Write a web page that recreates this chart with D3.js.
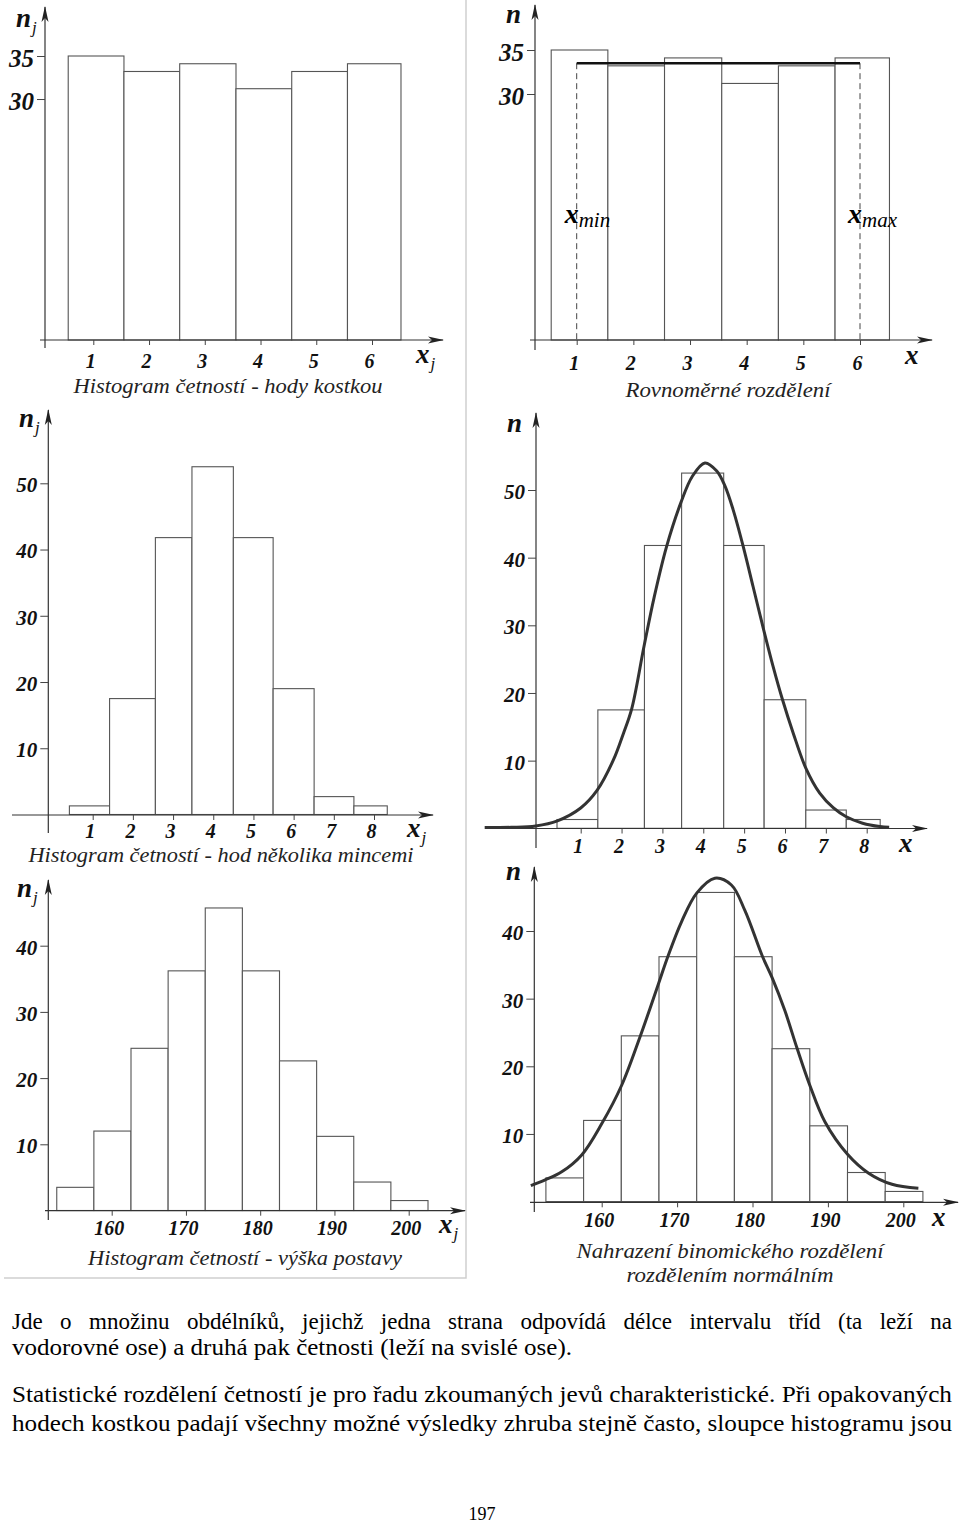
<!DOCTYPE html>
<html>
<head>
<meta charset="utf-8">
<script src="https://cdn.jsdelivr.net/npm/d3@7"></script>
<style>
body { margin: 0; background: #fff; }
svg { display: block; }
</style>
</head>
<body>
<script>
//Dice throws (panels 1 and 2)
var diceTicks = [1, 2, 3, 4, 5, 6];
var diceEdges = [0.55, 1.55, 2.55, 3.56, 4.56, 5.56, 6.52];
var diceCounts = [35, 33.2, 34.1, 31.2, 33.2, 34.1];
var diceYTicks = [30, 35];
var uniformLevel = 33.5;
var uniformRange = [1, 6];

//Coin tosses (panels 3 and 4)
var coinTicks = [1, 2, 3, 4, 5, 6, 7, 8];
var coinEdges = [0.42, 1.42, 2.56, 3.47, 4.5, 5.49, 6.51, 7.5, 8.33];
var coinCounts = [1.3, 17.5, 41.8, 52.5, 41.8, 19, 2.7, 1.3];
var coinYTicks = [10, 20, 30, 40, 50];
var coinCurveX = [-1.35, -0.7, -0.1, 0.43, 1.0, 1.4, 1.8, 2.05, 2.25, 2.55, 2.8, 3.1, 3.45, 3.73, 4.04,
    4.33, 4.53, 4.73, 4.98, 5.22, 5.48, 5.71, 5.94, 6.2, 6.51, 6.85, 7.18, 7.5, 7.9, 8.32, 8.55];
var coinCurveY = [0.1, 0.15, 0.35, 1.1, 3.0, 5.6, 10.1, 14.1, 17.7, 26.9, 34.2, 41.6, 48.1, 52.0, 54.0,
    52.8, 50.6, 47.1, 41.6, 35.7, 29.3, 23.9, 19.0, 14.1, 8.9, 5.2, 3.05, 1.7, 0.75, 0.25, 0.15];

//Body height (panels 5 and 6)
var heightTicks = [160, 170, 180, 190, 200];
var heightEdges = [152.6, 157.6, 162.6, 167.6, 172.6, 177.6, 182.6, 187.6, 192.6, 197.6, 202.6];
var heightCounts = [3.5, 12, 24.5, 36.2, 45.7, 36.2, 22.6, 11.2, 4.3, 1.5];
var heightYTicks = [10, 20, 30, 40];
var heightCurveX = [150.6, 152.5, 154.7, 157.35, 160, 162.65, 165.1, 167.5, 168.8, 170.6, 172.6, 175.0,
    177.2, 179.0, 181.3, 182.6, 184.3, 185.9, 187.6, 189.6, 192.6, 195.4, 198.5, 202.0];
var heightCurveY = [2.35, 3.2, 4.4, 6.9, 11.5, 17.2, 24.4, 32.1, 36.3, 41.4, 45.6, 47.8,
    46.8, 43.0, 36.3, 33.1, 28.2, 22.7, 17.2, 11.8, 7.0, 4.2, 2.56, 1.97];

//Page text
var paragraphLines = [
    'Jde o množinu obdélníků, jejichž jedna strana odpovídá délce intervalu tříd (ta leží na',
    'vodorovné ose) a druhá pak četnosti (leží na svislé ose).',
    'Statistické rozdělení četností je pro řadu zkoumaných jevů charakteristické. Při opakovaných',
    'hodech kostkou padají všechny možné výsledky zhruba stejně často, sloupce histogramu jsou'
];
var pageNumber = '197';

var serif = '"Liberation Serif", "DejaVu Serif", serif';

//Create the SVG Element
var svg = d3.select('body')
    .append('svg')
    .attr('width', 960)
    .attr('height', 1526);

//Arrow Marker for the Axes
svg.append('defs').append('marker')
    .attr('id', 'arrow')
    .attr('viewBox', '0 -4 16 8')
    .attr('refX', 15)
    .attr('refY', 0)
    .attr('markerUnits', 'userSpaceOnUse')
    .attr('markerWidth', 16)
    .attr('markerHeight', 8)
    .attr('orient', 'auto')
    .append('path')
    .attr('d', 'M0,-3.5L16,0L0,3.5L4,0Z')
    .attr('fill', '#222');

//Frame round the left column
svg.append('path')
    .attr('d', 'M466,0V1278H4')
    .attr('fill', 'none')
    .attr('stroke', '#cfcfcf')
    .attr('stroke-width', 1.5);

//Panel layouts
var panels = [
    {ticks: diceTicks, edges: diceEdges, counts: diceCounts, yTicks: diceYTicks,
     xDomain: [1, 6], xRange: [93.3, 372], yDomain: [2, 35], yRange: [340, 56],
     axisX: 45, axisY: 340, yTop: 7, yBottom: 348, xLeft: 40, xRight: 443,
     yFont: 25, xFont: 20, xLabelY: 368, yName: 'n', ySub: 'j', yNamePos: [16, 27],
     xName: 'x', xSub: 'j', xNamePos: [416, 363],
     caption: ['Histogram četností - hody kostkou'], captionX: 228, captionY: [393], captionW: [309]},
    {ticks: diceTicks, edges: diceEdges, counts: diceCounts, yTicks: diceYTicks,
     xDomain: [1, 6], xRange: [576.7, 860], yDomain: [2.05, 35], yRange: [340, 50],
     axisX: 535, axisY: 340, yTop: 5, yBottom: 350, xLeft: 530, xRight: 932,
     yFont: 25, xFont: 20, xLabelY: 370, yName: 'n', ySub: '', yNamePos: [506, 23],
     xName: 'x', xSub: '', xNamePos: [905, 364], uniform: true,
     caption: ['Rovnoměrné rozdělení'], captionX: 728, captionY: [397], captionW: [205]},
    {ticks: coinTicks, edges: coinEdges, counts: coinCounts, yTicks: coinYTicks,
     xDomain: [1, 8], xRange: [92.7, 374], yDomain: [0, 50], yRange: [814.5, 483.3],
     axisX: 48.3, axisY: 815, yTop: 410, yBottom: 833, xLeft: 12, xRight: 433,
     yFont: 21, xFont: 20, xLabelY: 838, yName: 'n', ySub: 'j', yNamePos: [19, 427],
     xName: 'x', xSub: 'j', xNamePos: [407, 837],
     caption: ['Histogram četností - hod několika mincemi'], captionX: 221, captionY: [862], captionW: [385]},
    {ticks: coinTicks, edges: coinEdges, counts: coinCounts, yTicks: coinYTicks,
     xDomain: [1, 8], xRange: [580.7, 866.7], yDomain: [0, 50], yRange: [828.3, 490],
     axisX: 536, axisY: 828.5, yTop: 413, yBottom: 848, xLeft: 488, xRight: 927,
     yFont: 21, xFont: 20, xLabelY: 853, yName: 'n', ySub: '', yNamePos: [507, 432],
     xName: 'x', xSub: '', xNamePos: [899, 852],
     curveX: coinCurveX, curveY: coinCurveY, caption: []},
    {ticks: heightTicks, edges: heightEdges, counts: heightCounts, yTicks: heightYTicks,
     xDomain: [160, 200], xRange: [111.7, 408.7], yDomain: [0, 40], yRange: [1210.5, 945.7],
     axisX: 48.3, axisY: 1210.7, yTop: 880, yBottom: 1220, xLeft: 45, xRight: 465,
     yFont: 21, xFont: 20, xLabelY: 1235, yName: 'n', ySub: 'j', yNamePos: [17, 897],
     xName: 'x', xSub: 'j', xNamePos: [439, 1233],
     caption: ['Histogram četností - výška postavy'], captionX: 245, captionY: [1265], captionW: [314]},
    {ticks: heightTicks, edges: heightEdges, counts: heightCounts, yTicks: heightYTicks,
     xDomain: [160, 200], xRange: [601.7, 903.3], yDomain: [0, 40], yRange: [1201.6, 931],
     axisX: 534.3, axisY: 1202.3, yTop: 867, yBottom: 1212, xLeft: 530, xRight: 958,
     yFont: 21, xFont: 20, xLabelY: 1227, yName: 'n', ySub: '', yNamePos: [506, 880],
     xName: 'x', xSub: '', xNamePos: [932, 1226],
     curveX: heightCurveX, curveY: heightCurveY,
     caption: ['Nahrazení binomického rozdělení', 'rozdělením normálním'], captionX: 730,
     captionY: [1258, 1282], captionW: [307, 207]}
];

panels.forEach(drawPanel);

function drawPanel(p) {
    var g = svg.append('g');

    //Scales
    var xScale = d3.scaleLinear().domain(p.xDomain).range(p.xRange);
    var yScale = d3.scaleLinear().domain(p.yDomain).range(p.yRange);
    var floor = p.yDomain[0];

    //Histogram bars
    g.selectAll('rect')
        .data(p.counts)
        .enter()
        .append('rect')
        .attr('x', (d, i) => xScale(p.edges[i]))
        .attr('width', (d, i) => xScale(p.edges[i + 1]) - xScale(p.edges[i]))
        .attr('y', d => yScale(d))
        .attr('height', d => yScale(floor) - yScale(d))
        .attr('fill', '#fff')
        .attr('stroke', '#555')
        .attr('stroke-width', 1.1);

    //Uniform distribution line
    if (p.uniform) {
        uniformRange.forEach(function(v) {
            g.append('line')
                .attr('x1', xScale(v)).attr('x2', xScale(v))
                .attr('y1', yScale(uniformLevel)).attr('y2', yScale(floor))
                .attr('stroke', '#444')
                .attr('stroke-dasharray', '6,4');
        });
        g.append('line')
            .attr('x1', xScale(uniformRange[0])).attr('x2', xScale(uniformRange[1]))
            .attr('y1', yScale(uniformLevel)).attr('y2', yScale(uniformLevel))
            .attr('stroke', '#111')
            .attr('stroke-width', 2.5);
        var names = ['min', 'max'];
        uniformRange.forEach(function(v, i) {
            var t = g.append('text')
                .attr('x', xScale(v) - 12)
                .attr('y', 223)
                .attr('font-family', serif);
            t.append('tspan').text('x')
                .attr('font-size', 28).attr('font-weight', 'bold').attr('font-style', 'italic');
            t.append('tspan').text(names[i])
                .attr('font-size', 21).attr('font-style', 'italic').attr('dy', 4);
        });
    }

    //Normal curve
    if (p.curveX) {
        var line = d3.line()
            .x(d => xScale(d[0]))
            .y(d => yScale(d[1]))
            .curve(d3.curveCatmullRom);
        g.append('path')
            .datum(d3.zip(p.curveX, p.curveY))
            .attr('d', line)
            .attr('fill', 'none')
            .attr('stroke', '#333')
            .attr('stroke-width', 3);
    }

    //Axis lines with arrows
    g.append('line')
        .attr('x1', p.xLeft).attr('x2', p.xRight)
        .attr('y1', p.axisY).attr('y2', p.axisY)
        .attr('stroke', '#333').attr('stroke-width', 1.2)
        .attr('marker-end', 'url(#arrow)');
    g.append('line')
        .attr('x1', p.axisX).attr('x2', p.axisX)
        .attr('y1', p.yBottom).attr('y2', p.yTop)
        .attr('stroke', '#333').attr('stroke-width', 1.2)
        .attr('marker-end', 'url(#arrow)');

    //Bottom ticks
    var xAxis = d3.axisBottom(xScale).tickValues(p.ticks).tickSize(5).tickFormat(d3.format('d'));
    var xg = g.append('g')
        .attr('transform', `translate(0, ${p.axisY})`)
        .call(xAxis);
    xg.select('.domain').remove();
    xg.selectAll('line').attr('stroke', '#444');
    xg.selectAll('text')
        .attr('y', p.xLabelY - p.axisY)
        .attr('dy', 0)
        .attr('dx', -3)
        .attr('fill', '#111')
        .attr('font-family', serif)
        .attr('font-size', p.xFont)
        .attr('font-weight', 'bold')
        .attr('font-style', 'italic');

    //Left ticks
    var yAxis = d3.axisLeft(yScale).tickValues(p.yTicks).tickSize(8).tickPadding(3).tickFormat(d3.format('d'));
    var yg = g.append('g')
        .attr('transform', `translate(${p.axisX}, 0)`)
        .call(yAxis);
    yg.select('.domain').remove();
    yg.selectAll('line').attr('stroke', '#444');
    yg.selectAll('text')
        .attr('dy', '0.4em')
        .attr('fill', '#111')
        .attr('font-family', serif)
        .attr('font-size', p.yFont)
        .attr('font-weight', 'bold')
        .attr('font-style', 'italic');

    //Axis names
    [[p.yName, p.ySub, p.yNamePos], [p.xName, p.xSub, p.xNamePos]].forEach(function(n) {
        var t = g.append('text')
            .attr('x', n[2][0])
            .attr('y', n[2][1])
            .attr('font-family', serif)
            .attr('fill', '#111');
        t.append('tspan').text(n[0])
            .attr('font-size', 27).attr('font-weight', 'bold').attr('font-style', 'italic');
        if (n[1]) {
            t.append('tspan').text(n[1])
                .attr('font-size', 17).attr('font-style', 'italic').attr('dy', 6).attr('dx', 1);
        }
    });

    //Captions
    p.caption.forEach(function(c, i) {
        g.append('text')
            .attr('x', p.captionX)
            .attr('y', p.captionY[i])
            .attr('text-anchor', 'middle')
            .attr('font-family', serif)
            .attr('font-style', 'italic')
            .attr('font-size', 21)
            .attr('fill', '#222')
            .attr('textLength', p.captionW[i])
            .attr('lengthAdjust', 'spacingAndGlyphs')
            .text(c);
    });
}

//Body text below the charts
//words = justify by widening the spaces, squeeze = fit the glyphs to the width
var lineY = [1329, 1355, 1402, 1431];
var lineFit = ['words', 'natural', 'squeeze', 'squeeze'];
var textWidth = 940;
svg.selectAll('text.para')
    .data(paragraphLines)
    .enter()
    .append('text')
    .classed('para', true)
    .attr('x', 12)
    .attr('y', (d, i) => lineY[i])
    .attr('font-family', serif)
    .attr('font-size', 23)
    .attr('fill', '#000')
    .text(d => d)
    .each(function(d, i) {
        var sel = d3.select(this);
        if (lineFit[i] === 'words') {
            var w = this.getComputedTextLength();
            var gaps = d.split(' ').length - 1;
            sel.attr('word-spacing', (textWidth - w) / gaps);
        } else if (lineFit[i] === 'squeeze') {
            sel.attr('textLength', textWidth).attr('lengthAdjust', 'spacingAndGlyphs');
        } else {
            sel.attr('textLength', 560).attr('lengthAdjust', 'spacingAndGlyphs');
        }
    });

svg.append('text')
    .attr('x', 482)
    .attr('y', 1520)
    .attr('text-anchor', 'middle')
    .attr('font-family', serif)
    .attr('font-size', 18)
    .text(pageNumber);
</script>
</body>
</html>
